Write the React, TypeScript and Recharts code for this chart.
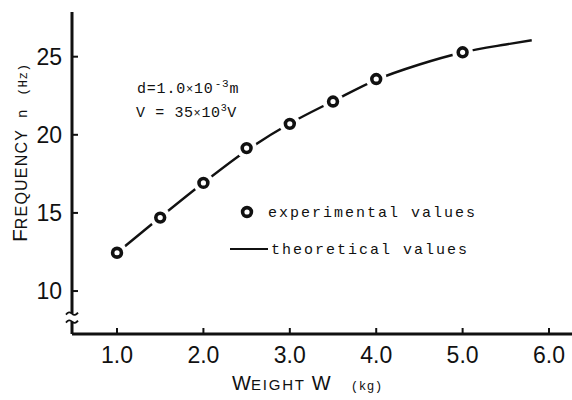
import React from 'react';
import { ComposedChart, Line, XAxis, YAxis, ReferenceDot, Customized } from 'recharts';

// ---- data ----
const weightTicks = [1, 2, 3, 4, 5, 6];
const weightTickLabels = ['1.0', '2.0', '3.0', '4.0', '5.0', '6.0'];
const freqTicks = [10, 15, 20, 25];
const freqTickLabels = ['10', '15', '20', '25'];

const expWeight = [1.0, 1.5, 2.0, 2.5, 3.0, 3.5, 4.0, 5.0];
const expFreq = [12.45, 14.7, 16.92, 19.15, 20.7, 22.13, 23.57, 25.28];

const theoWeight = [1.0, 1.5, 2.0, 2.5, 3.0, 3.5, 4.0, 4.5, 5.0, 5.5, 5.8];
const theoFreq = [12.45, 14.72, 16.93, 19.0, 20.72, 22.15, 23.52, 24.5, 25.27, 25.78, 26.05];

const xDomain = [0.479, 6.266];
const yDomain = [7.25, 27.86];
const breakValue = 8.3;

const expData = expWeight.map((w, i) => ({ w, f: expFreq[i] }));
const theoData = theoWeight.map((w, i) => ({ w, f: theoFreq[i] }));

const SANS = '"Liberation Sans Narrow", "Liberation Sans", sans-serif';
const MONO = '"Liberation Mono", "DejaVu Sans Mono", monospace';
const INK = '#111';

const Marker = (props: any) => {
  const { cx, cy } = props;
  if (cx == null || cy == null) return <g />;
  return (
    <g>
      <circle cx={cx} cy={cy} r={10.5} fill="#ffffff" stroke="none" />
      <circle cx={cx} cy={cy} r={4.4} fill="#ffffff" stroke={INK} strokeWidth={3.6} />
    </g>
  );
};

const YTick = (props: any) => {
  const { x, y, index } = props;
  return (
    <g>
      <line x1={x} x2={x + 6} y1={y} y2={y} stroke={INK} strokeWidth={2} />
      <text x={x - 10} y={y} dy="0.36em" textAnchor="end" fontSize={23} fontFamily={SANS} fill={INK} fontWeight={300}>
        {freqTickLabels[index]}
      </text>
    </g>
  );
};

const XTick = (props: any) => {
  const { x, y, index } = props;
  return (
    <g>
      <line x1={x} x2={x} y1={y} y2={y - 6} stroke={INK} strokeWidth={2} />
      <text x={x} y={y + 29} textAnchor="middle" fontSize={23} fontFamily={SANS} fill={INK} fontWeight={300}>
        {weightTickLabels[index]}
      </text>
    </g>
  );
};

const AxisBreak = ({ cx, cy }: any) => (
  <g>
    <rect x={cx - 4} y={cy - 4} width={8} height={8} fill="#fff" />
    <path d={`M ${cx - 6} ${cy - 3} q 3 -4 6 -1 t 6 -1`} fill="none" stroke={INK} strokeWidth={1.8} />
    <path d={`M ${cx - 6} ${cy + 5} q 3 -4 6 -1 t 6 -1`} fill="none" stroke={INK} strokeWidth={1.8} />
  </g>
);

const Decorations = () => (
  <g>
    {/* Y axis title */}
    <text transform="translate(27,242) rotate(-90)" fill={INK} fontFamily={SANS}>
      <tspan fontSize={21}>F</tspan>
      <tspan fontSize={16} letterSpacing={1.2}>REQUENCY</tspan>
      <tspan fontFamily={MONO} fontSize={14} dx={11}>n</tspan>
      <tspan fontFamily={MONO} fontSize={12.5} dx={14} letterSpacing={0.5}>(Hz)</tspan>
    </text>
    {/* X axis title */}
    <text x={232} y={390} fill={INK} fontFamily={SANS}>
      <tspan fontSize={20}>W</tspan>
      <tspan fontSize={15} letterSpacing={1.8}>EIGHT</tspan>
      <tspan fontSize={20} dx={6}>W</tspan>
      <tspan fontFamily={MONO} fontSize={12.5} dx={20} letterSpacing={0.5}>(kg)</tspan>
    </text>
    {/* annotation */}
    <text x={137} y={93} fill={INK} fontFamily={MONO} fontSize={15} letterSpacing={0.8}>
      <tspan>d=1.0</tspan>
      <tspan fontSize={12}>×</tspan>
      <tspan>10</tspan>
      <tspan fontSize={11} dy={-6} dx={1}>-3</tspan>
      <tspan dy={6}>m</tspan>
    </text>
    <text x={136} y={117} fill={INK} fontFamily={MONO} fontSize={15} letterSpacing={0.6}>
      <tspan>V = 35</tspan>
      <tspan fontSize={12}>×</tspan>
      <tspan>10</tspan>
      <tspan fontSize={10} dy={-6}>3</tspan>
      <tspan dy={6}>V</tspan>
    </text>
    {/* legend */}
    <Marker cx={247} cy={212} />
    <text x={268} y={217} fill={INK} fontFamily={MONO} fontSize={15} letterSpacing={2}>experimental values</text>
    <line x1={230} x2={268} y1={249} y2={249} stroke={INK} strokeWidth={2.2} />
    <text x={271} y={254} fill={INK} fontFamily={MONO} fontSize={15} letterSpacing={2}>theoretical values</text>
  </g>
);

export default function App() {
  return (
    <div style={{ position: 'absolute', left: 0, top: 0, width: 572, height: 400, background: '#fff' }}>
      <ComposedChart
        width={572}
        height={400}
        margin={{ top: 12, right: 0, bottom: 0, left: 0 }}
        style={{ background: '#fff' }}
      >
        <XAxis
          type="number"
          dataKey="w"
          domain={xDomain}
          ticks={weightTicks}
          allowDataOverflow
          height={66}
          tickSize={0}
          tickMargin={0}
          tickLine={false}
          axisLine={{ stroke: INK, strokeWidth: 3 }}
          tick={<XTick />}
          interval={0}
        />
        <YAxis
          type="number"
          dataKey="f"
          domain={yDomain}
          ticks={freqTicks}
          allowDataOverflow
          width={72}
          tickSize={0}
          tickMargin={0}
          tickLine={false}
          axisLine={{ stroke: INK, strokeWidth: 3 }}
          tick={<YTick />}
          interval={0}
        />
        <Line
          data={theoData}
          dataKey="f"
          type="monotone"
          stroke={INK}
          strokeWidth={2.4}
          dot={false}
          activeDot={false}
          isAnimationActive={false}
        />
        <Line
          data={expData}
          dataKey="f"
          stroke="none"
          dot={<Marker />}
          activeDot={false}
          isAnimationActive={false}
        />
        <ReferenceDot x={xDomain[0]} y={breakValue} ifOverflow="visible" shape={<AxisBreak />} />
        <Customized component={Decorations} />
      </ComposedChart>
    </div>
  );
}
